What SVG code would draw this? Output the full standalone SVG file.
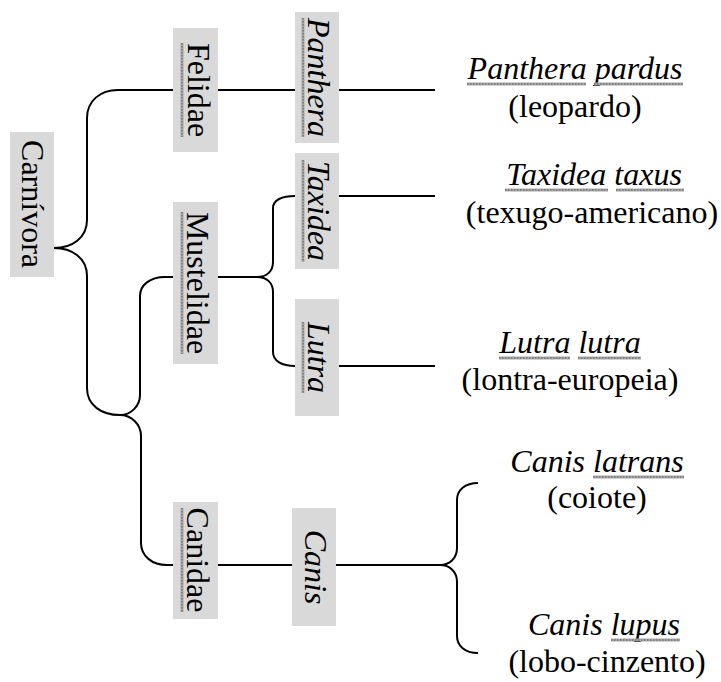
<svg xmlns="http://www.w3.org/2000/svg" width="721" height="682" viewBox="0 0 721 682">
<style>
.box{fill:#d9d9d9;stroke:none}
.t{font-family:"Liberation Serif","Times New Roman",serif;font-size:32px;fill:#000}
.i{font-style:italic}
.c{fill:none;stroke:#000;stroke-width:2}
.u1{fill:none;stroke:#a8a8a8;stroke-width:3}
.u2{fill:none;stroke:#5a5a5a;stroke-width:1;stroke-dasharray:1.5 1.5}
</style>
<rect width="721" height="682" fill="#fff"/>
<g id="connectors">
<path class="c" d="M54,248 C72,248 87,238 87,220 L87,118 C87,101 100,90 118,90 L173,90"/>
<path class="c" d="M54,248 C72,248 87,258 87,276 L87,388 C87,405 101,415 120,415"/>
<path class="c" d="M120,415 C131,415 140,406 140,395 L140,296 C140,285 150,277 165,277 L173,277"/>
<path class="c" d="M120,415 C131,415 141,424 141,436 L141,543 C141,556 152,565 167,565 L173,565"/>
<path class="c" d="M218,90 L295,90 M339,90 L435,90"/>
<path class="c" d="M218,277 L257,277"/>
<path class="c" d="M257,277 C267,277 273,271 273,262 L273,208 C273,200 282,196 295,196 M339,196 L435,196"/>
<path class="c" d="M257,277 C267,277 273,283 273,292 L273,352 C273,361 282,366 295,366 M339,366 L435,366"/>
<path class="c" d="M218,565 L292,565 M336,565 L440,565"/>
<path class="c" d="M440,565 C450,565 457,558 457,548 L457,500 C457,490 465,483 478,483"/>
<path class="c" d="M440,565 C450,565 457,572 457,582 L457,636 C457,646 465,653 478,653"/>
</g>
<g id="carnivora">
<rect class="box" x="10" y="132" width="44" height="145"/>
<text class="t" transform="translate(22,204) rotate(90)" text-anchor="middle">Carnívora</text>
</g>
<g id="felidae">
<rect class="box" x="173" y="28" width="45" height="124"/>
<text class="t" transform="translate(188,90) rotate(90)" text-anchor="middle">Felidae</text>
<path class="u1" d="M182,43 V137"/><path class="u2" d="M182,43 V137"/>
</g>
<g id="panthera">
<rect class="box" x="295" y="12" width="44" height="131"/>
<text class="t i" transform="translate(308,77.5) rotate(90)" text-anchor="middle">Panthera</text>
<path class="u1" d="M303,18 V137"/><path class="u2" d="M303,18 V137"/>
</g>
<g id="mustelidae">
<rect class="box" x="173" y="202" width="45" height="162"/>
<text class="t" transform="translate(187,283) rotate(90)" text-anchor="middle">Mustelidae</text>
<path class="u1" d="M182,212 V354"/><path class="u2" d="M182,212 V354"/>
</g>
<g id="taxidea">
<rect class="box" x="295" y="153" width="44" height="116"/>
<text class="t i" transform="translate(308,211) rotate(90)" text-anchor="middle">Taxidea</text>
<path class="u1" d="M303,160 V262"/><path class="u2" d="M303,160 V262"/>
</g>
<g id="lutra">
<rect class="box" x="295" y="299" width="44" height="117"/>
<text class="t i" transform="translate(308,357.5) rotate(90)" text-anchor="middle">Lutra</text>
<path class="u1" d="M303,322 V393"/><path class="u2" d="M303,322 V393"/>
</g>
<g id="canidae">
<rect class="box" x="173" y="502" width="45" height="117"/>
<text class="t" transform="translate(187,560) rotate(90)" text-anchor="middle">Canidae</text>
<path class="u1" d="M182,508 V612"/><path class="u2" d="M182,508 V612"/>
</g>
<g id="canis">
<rect class="box" x="292" y="508" width="44" height="118"/>
<text class="t i" transform="translate(305,567) rotate(90)" text-anchor="middle">Canis</text>
</g>
<g id="panthera-pardus">
<text class="t i" x="575" y="79" text-anchor="middle">Panthera pardus</text>
<text class="t" x="575" y="117" text-anchor="middle">(leopardo)</text>
<path class="u1" d="M467,84 H586 M594,84 H683"/><path class="u2" d="M467,84 H586 M594,84 H683"/>
</g>
<g id="taxidea-taxus">
<text class="t i" x="594" y="185" text-anchor="middle">Taxidea taxus</text>
<text class="t" x="592" y="223" text-anchor="middle">(texugo-americano)</text>
<path class="u1" d="M505,190 H608 M616,190 H684"/><path class="u2" d="M505,190 H608 M616,190 H684"/>
</g>
<g id="lutra-lutra">
<text class="t i" x="570" y="353" text-anchor="middle">Lutra lutra</text>
<text class="t" x="570" y="390" text-anchor="middle">(lontra-europeia)</text>
<path class="u1" d="M499,358 H570 M578,358 H641"/><path class="u2" d="M499,358 H570 M578,358 H641"/>
</g>
<g id="canis-latrans">
<text class="t i" x="597" y="472" text-anchor="middle">Canis latrans</text>
<text class="t" x="597" y="508" text-anchor="middle">(coiote)</text>
<path class="u1" d="M593,477 H684"/><path class="u2" d="M593,477 H684"/>
</g>
<g id="canis-lupus">
<text class="t i" x="604" y="635" text-anchor="middle">Canis lupus</text>
<text class="t" x="607" y="672" text-anchor="middle">(lobo-cinzento)</text>
<path class="u1" d="M611,640 H680"/><path class="u2" d="M611,640 H680"/>
</g>
</svg>
